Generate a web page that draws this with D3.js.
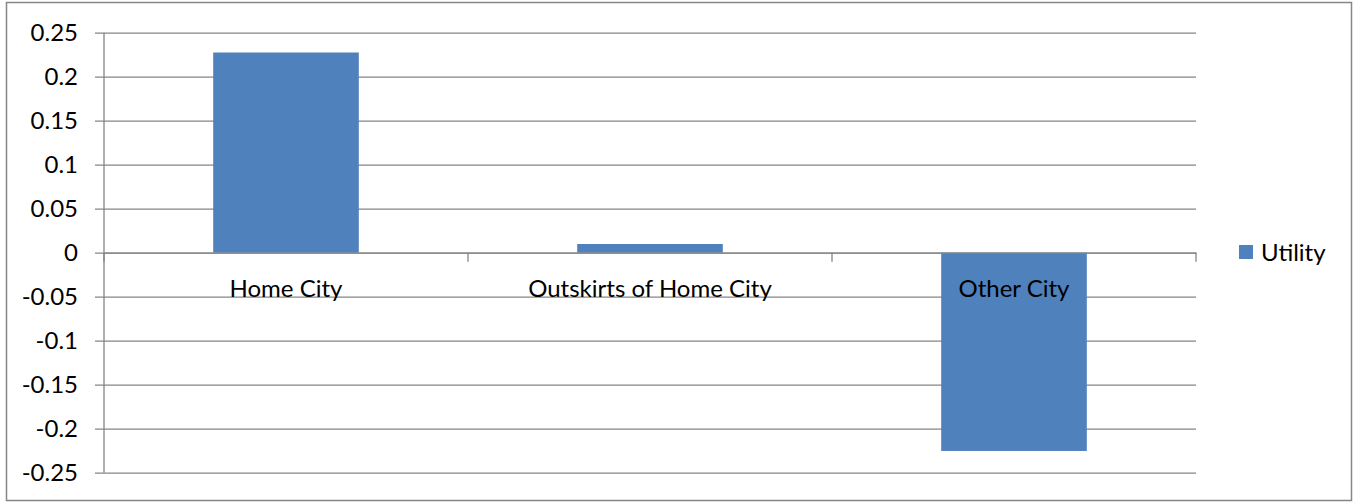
<!DOCTYPE html>
<html><head><meta charset="utf-8">
<script src="https://cdn.jsdelivr.net/npm/d3@7"></script>
<style>body{margin:0;background:#fff;} svg{display:block;}</style>
</head><body>
<svg id="chart" width="1356" height="502"></svg>
<script>
const categories = ["Home City", "Outskirts of Home City", "Other City"];
const values = [0.2275, 0.0099, -0.2253];
const seriesName = "Utility";
const yTicks = [0.25, 0.2, 0.15, 0.1, 0.05, 0, -0.05, -0.1, -0.15, -0.2, -0.25];
const yTickLabels = ["0.25", "0.2", "0.15", "0.1", "0.05", "0", "-0.05", "-0.1", "-0.15", "-0.2", "-0.25"];

(function () {
const svg = d3.select("#chart");
const font = "Lato, 'Open Sans', sans-serif";
const fs = 24;
const grid = "#868686";
const barColor = "#4F81BD";

// outer border
svg.append("rect").attr("x", 6.5).attr("y", 2.5).attr("width", 1345).attr("height", 498)
  .attr("fill", "#fff").attr("stroke", grid).attr("stroke-width", 1.5);

const pLeft = 104, pRight = 1196, pTop = 32.7, pBottom = 472.7;
const x = d3.scaleBand().domain(categories).range([pLeft, pRight]).paddingInner(0.6).paddingOuter(0.3);
const xb = d3.scaleBand().domain(categories).range([pLeft, pRight]);
const y = d3.scaleLinear().domain([-0.25, 0.25]).range([pBottom, pTop]);

// gridlines
const yAxis = d3.axisLeft(y).tickValues(yTicks).tickSize(-(pRight - pLeft)).tickSizeOuter(0)
  .tickFormat((d, i) => yTickLabels[i]).tickPadding(26);
const gy = svg.append("g").attr("transform", `translate(${pLeft},0)`).call(yAxis);
gy.select(".domain").remove();
gy.selectAll(".tick line").attr("stroke", grid).attr("stroke-width", 1.3).attr("x1", -9);
gy.selectAll(".tick text").attr("font-family", font).attr("font-size", fs).attr("fill", "#000");

// y axis line
svg.append("line").attr("x1", pLeft).attr("x2", pLeft).attr("y1", pTop).attr("y2", pBottom)
  .attr("stroke", grid).attr("stroke-width", 1.3);

// bars
svg.selectAll("rect.bar").data(values).enter().append("rect").attr("class", "bar")
  .attr("x", (d, i) => x(categories[i]))
  .attr("width", x.bandwidth())
  .attr("y", d => y(Math.max(0, d)))
  .attr("height", d => Math.abs(y(d) - y(0)))
  .attr("fill", barColor);

// x axis at zero
const xAxis = d3.axisBottom(xb).tickSize(0).tickFormat("");
const gx = svg.append("g").attr("transform", `translate(0,${y(0)})`).call(xAxis);
gx.select(".domain").attr("stroke", grid).attr("stroke-width", 1.3);
// category tick marks at band boundaries
const bounds = categories.map(c => xb(c)).concat([pRight]);
svg.selectAll("line.ctick").data(bounds).enter().append("line").attr("class", "ctick")
  .attr("x1", d => d).attr("x2", d => d).attr("y1", y(0)).attr("y2", y(0) + 9)
  .attr("stroke", grid).attr("stroke-width", 1.3);
// category labels
svg.selectAll("text.cat").data(categories).enter().append("text").attr("class", "cat")
  .attr("x", d => xb(d) + xb.bandwidth() / 2).attr("y", y(0) + 44)
  .attr("text-anchor", "middle").attr("font-family", font).attr("font-size", fs).attr("fill", "#000")
  .text(d => d);

// legend
svg.append("rect").attr("x", 1239).attr("y", 245).attr("width", 14).attr("height", 14).attr("fill", barColor);
svg.append("text").attr("x", 1261).attr("y", 261).attr("font-family", font).attr("font-size", fs)
  .attr("fill", "#000").text(seriesName);
})();
</script>
</body></html>
